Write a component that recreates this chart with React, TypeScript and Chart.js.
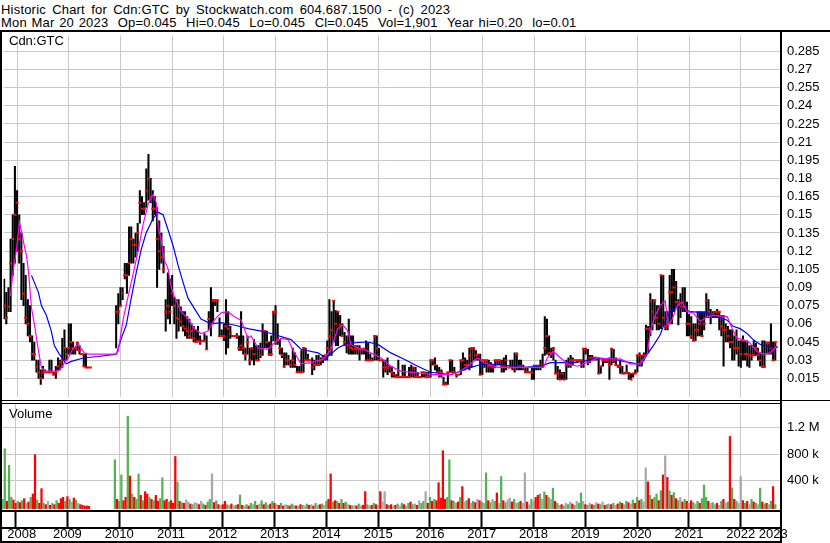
import React, { useEffect, useRef } from 'react';
import { Chart, registerables } from 'chart.js';

Chart.register(...registerables);

// ---------- DATA (bars are half-month periods; index 0 = early Apr 2008) ----------
const years = ['2008', '2009', '2010', '2011', '2012', '2013', '2014', '2015', '2016', '2017', '2018', '2019', '2020', '2021', '2022', '2023'];
const yearStart = [18, 42, 66, 90, 114, 138, 162, 186, 210, 234, 258, 282, 306, 330, 354];
const xMin = -0.3;
const xMax = 360.2;

const priceTicks = [0.015, 0.03, 0.045, 0.06, 0.075, 0.09, 0.105, 0.12, 0.135, 0.15, 0.165, 0.18, 0.195, 0.21, 0.225, 0.24, 0.255, 0.27, 0.285];
const priceTickLabels = ['0.015', '0.03', '0.045', '0.06', '0.075', '0.09', '0.105', '0.12', '0.135', '0.15', '0.165', '0.18', '0.195', '0.21', '0.225', '0.24', '0.255', '0.27', '0.285'];
const volTicks = [400, 800, 1200];
const volTickLabels = ['400 k', '800 k', '1.2 M'];

const N = null;
// prices in cents
const high = [
  9.7, 8.6, 9, 13, 15, 19, 17, 15, 13.5, 11, 10, 8, 7.5, 5, 4.5, 3, 3, 2.2,
  2.5, 2.2, 2, 3, 3, 2, 2.5, 3.2, 3, 4.8, 5.5, 4, 6, 6, 4.5, 4, 4.5, 4.2, 3.5, 3.5, 3.5, 2.4, 2.4, N,
  N, N, N, N, N, N, N, N, N, N, 7.5, 8.5, 9, 9, 11, 11, 14, 14, 13, 13.5, 14.3, 17, 16.5, 16,
  18.8, 20, 18, 17, 16.5, 15.6, 14.5, 13.5, 12.4, 8, 10.2, 9.7, 10, 8.2, 8, 8, 7.4, 7, 7, 6.6, 6.4, 6, 5.8, 5.5,
  5.8, 5, 4.6, 5.2, 5, 7, 9, 8, 8, 8, 6.5, 5.5, 6, 8, 7, 5.8, 5, 5, 5.2, 5, 7, 5, 4, 5,
  4, 4, 4.7, 4.2, 4.2, 4.4, 6, 5.4, 5.4, 4.5, 5, 7, 7.5, 6, 4.7, 4, 3.6, 3.6, 3.4, 3, 4, 3.6, 2.5, 2.5,
  3.8, 4, 4, 3.5, 3, 3.2, 3, 3.4, 3.4, 3.2, 3.4, 3.4, 4.6, 8, 7, 7.9, 7.1, 7, 6.7, 6, 5.3, 5, 6.4, 5,
  5, 4.2, 4.2, 4.2, 4, 4, 4.6, 4.4, 3.5, 3.2, 5, 5, 4, 3, 3, 3, 3.2, 2.5, 2.5, 2, 1.8, 3, 1.6, 2.6,
  2.6, 1.6, 2.4, 2.6, 2.4, 2.4, 2, 1.6, 2, 2, 2, 2, 3, 3, 3.2, 2.6, 2.4, 2.2, 1.6, 1.2, 2, 3, 3, 2.4,
  1.8, 1.8, 3, 3.6, 3.2, 3, 4, 4, 4, 3.8, 3.5, 3.5, 3, 3, 3, 3, 2.8, 2.6, 3, 3, 3, 3, 3.2, 3.4,
  2.4, 3, 3, 3.6, 3.6, 3, 3, 2.6, 2.4, 2.4, 2, 2.4, 2.6, 2.6, 2.6, 3, 3.5, 6.6, 6.4, 5, 4, 4, 3, 2.5,
  2.2, 2, 2, 3, 3.2, 3.4, 3.2, 3, 3, 3, 3, 4, 4, 3.9, 3.4, 3.4, 3.2, 3.2, 3.2, 2.5, 3, 3, 3, 3.2,
  4, 3.9, 3.2, 2.6, 3, 2.5, 2, 2.6, 2, 1.9, 1.9, 2.2, 3.4, 3.6, 3.4, 3.6, 5.9, 5.8, 8.5, 8, 8, 7.5, 7.5, 10,
  10, 7, 7, 10, 10.5, 10.5, 9.5, 8, 8.5, 9, 9, 7.8, 6.8, 6.6, 6, 6, 7, 7, 7, 7, 8.5, 8, 7.2, 7,
  7, 7.2, 7, 6.7, 6.7, 6, 5.8, 5.5, 5.5, 5, 5.5, 4.6, 4.6, 5, 4.6, 4.6, 4.2, 4.2, 4.6, 4.4, 4, 3.6, 4.6, 4.6,
  4.5, 4.5, 6, 4.5, 4.5,
];
const low = [
  6.4, 6, 7, 7, 10, 11, 12, 11, 8, 7.5, 6, 5, 4.5, 3, 3, 2, 1.5, 1,
  1.5, 2, 2, 2, 2, 1.8, 1.5, 2.2, 2.2, 2.4, 3, 3, 3.5, 3.5, 3.5, 3.5, 3.8, 3.5, 3.5, 2.5, 2.4, 2.4, 2.4, N,
  N, N, N, N, N, N, N, N, N, N, 4, 6, 7.5, 8, 9.7, 8.5, 10, 11, 11, 11.5, 12, 14.3, 15, 15,
  15.6, 16.2, 16, 14.5, 15, 9, 10.5, 11, 10.2, 5.4, 6.4, 6, 7.5, 6, 4.8, 5.4, 5.8, 5.4, 5, 4.8, 4.8, 4.8, 4.5, 4.5,
  4.5, 4.3, 4.6, 4.5, 3.9, 5.5, 5, 6, 7.5, 7, 5, 5, 4.6, 3.5, 4, 4.8, 5, 5, 4.8, 3.8, 3.8, 3.5, 3, 3.5,
  2.6, 3, 2.6, 3, 3, 3.2, 3.4, 4, 4, 3.4, 3.4, 4.6, 4.3, 4.3, 3.5, 3.2, 2.4, 2.6, 2.6, 2.4, 2.4, 2.4, 2, 2,
  2, 2, 3, 3, 3, 1.8, 2.2, 2.6, 2.6, 2.6, 2.8, 3, 3, 3.4, 3.4, 4.5, 4.2, 4.2, 5, 5, 4.2, 3.6, 3.5, 3.5,
  3.5, 3.5, 3.5, 3, 3.5, 3.5, 3, 3, 3, 3, 3, 3, 3, 3, 1.6, 2, 1.8, 2, 1.6, 1.6, 1.6, 1.6, 1.6, 1.6,
  1.6, 1.6, 1.6, 1.6, 1.6, 1.6, 1.6, 1.6, 1.6, 1.6, 1.6, 1.6, 1.6, 2.6, 2.2, 2, 1.6, 1.6, 1, 1, 1, 2, 2, 2,
  1.6, 1.8, 1.8, 2.2, 2.2, 2.4, 2.2, 2.4, 3, 3, 3, 1.8, 1.8, 2.4, 2, 2, 2, 2, 2.4, 2.6, 2.6, 2, 2, 2.2,
  2.4, 2.4, 2.2, 2, 2.2, 2.2, 2.2, 2.2, 2, 2, 2, 1.4, 1.4, 2.2, 2.2, 2.2, 2.4, 3.4, 3.5, 3.4, 3.2, 3, 1.9, 1.4,
  1.4, 1.4, 1.4, 1.4, 2.4, 2.4, 2.6, 3, 2.8, 3, 2.4, 2.4, 3.5, 2.6, 2.8, 3, 3, 3, 1.9, 1.9, 2.5, 2.8, 2.8, 1.4,
  2.6, 2.8, 2.6, 2.4, 1.9, 1.9, 1.9, 1.9, 1.4, 1.4, 1.6, 1.9, 2, 2.5, 2.5, 3, 3.4, 3.6, 5, 5.5, 6, 5.5, 5.5, 5.6,
  5.8, 5.5, 5.5, 6, 6, 7, 7.3, 5.9, 6.5, 7, 7, 5, 5, 4.8, 4.6, 4.6, 5, 5, 5, 5.5, 6.5, 6.5, 6, 6.5,
  6.5, 6.5, 5.5, 5, 2.5, 4.5, 4.5, 4, 3, 3, 3.5, 2.5, 2.4, 3, 3, 2.5, 2.4, 3, 3.4, 3.4, 3, 2.5, 2.4, 2.4,
  3.5, 3.5, 3.5, 3, 3,
];
const close = [
  7.5, 6.5, 7.4, 11, 13, 15, 16, 13, 12, 8.5, 6.5, 6, 5, 3.5, 3.5, 2.5, 2, 1.5,
  2, 2, 2, 2, 2, 1.8, 2, 2.5, 2.8, 3, 4, 3.5, 4, 4.5, 4, 4, 4.4, 3.8, 3.5, 2.5, 2.4, 2.4, 2.4, N,
  N, N, N, N, N, N, N, N, N, N, 7, 7, 7.5, 8.5, 10, 10, 11, 13, 12.5, 12.5, 13.5, 16, 15.5, 15.5,
  17, 18, 16.5, 15.5, 15.5, 13, 12, 11.5, 10.5, 7, 7.5, 7, 8.5, 7.5, 6.5, 6.4, 6.2, 5.8, 5.6, 5.4, 5, 5.4, 4.8, 4.5,
  4.6, 4.5, 4.6, 4.6, 3.9, 6.4, 6, 7.9, 7.9, 7.9, 5, 5, 5, 5.8, 5.6, 5.2, 5, 5, 5, 4, 4.2, 4, 3.5, 4.5,
  3, 4, 3.5, 3, 3, 3.4, 5.4, 5.4, 4.5, 3.5, 3.5, 7, 7, 4.7, 4, 3.4, 2.5, 3, 3, 2.6, 3, 2.6, 2, 2,
  2, 4, 3, 3, 3, 2.4, 2.6, 2.6, 2.6, 3, 3.2, 3.4, 4, 5, 5.5, 7.9, 6, 7, 5.9, 5, 4.5, 4.3, 4.2, 4,
  3.9, 3.9, 4, 3.9, 3.9, 3.9, 3, 3, 3, 3, 5, 4, 3, 3, 2.4, 2.4, 2.4, 2.5, 2, 1.8, 1.6, 1.6, 1.6, 1.6,
  1.6, 1.6, 1.6, 2, 2.4, 1.6, 1.6, 1.6, 2, 2, 1.6, 1.6, 3, 3, 2.6, 2, 2, 2, 1, 1, 2, 3, 2, 2,
  1.8, 1.8, 3, 3, 2.6, 2.6, 3.4, 4, 4, 3.4, 3.4, 1.8, 3, 3, 3, 2.5, 2.5, 2.4, 3, 3, 3, 2.5, 2.5, 3,
  2.4, 2.4, 2.4, 2.4, 3.5, 2.5, 2.5, 2.4, 2, 2, 2, 2, 2.5, 2.5, 2.5, 2.5, 2.6, 4, 5, 3.6, 3.6, 4, 1.9, 1.9,
  1.4, 1.9, 1.4, 2.6, 2.6, 3, 3, 3, 3, 3, 3, 3.9, 3.9, 3, 3.2, 3.2, 3.2, 3.2, 1.9, 2.5, 3, 3, 3, 2.6,
  3.9, 3, 2.6, 2.5, 2.5, 1.9, 1.9, 2, 1.9, 1.4, 1.9, 1.9, 3.4, 3.4, 3, 3.4, 5.6, 5.6, 7.9, 7, 7.9, 6.5, 6, 10,
  6.5, 5.8, 6, 8.6, 8.6, 9, 7.8, 7.8, 7.4, 7.4, 7.4, 6, 6, 5, 4.6, 5.5, 5.5, 6, 5, 6, 7.9, 7, 6.8, 6.8,
  7, 7, 7, 5.8, 5.5, 5.5, 5, 4.5, 4.5, 4, 4, 4, 3.5, 4.6, 3.5, 3.5, 3.4, 3.4, 3.4, 4, 3.4, 3, 2.5, 2.5,
  4.4, 4.4, 4, 3, 4.5,
];

// short moving average (magenta), positions in bar index, values in cents
const pinkX = [2.9, 4.3, 5.7, 7.1, 8.0, 9.4, 10.4, 11.3, 12.7, 14.1, 15.9, 17.3, 18.7, 25.2, 26.6, 29.8, 32.1, 34.5, 37.2, 39.1, 52.1, 53.0, 55.3, 57.6, 60.0, 62.3, 64.6, 66.9, 69.2, 70.6, 71.5, 72.9, 74.3, 76.2, 77.5, 78.9, 82.2, 85.4, 88.2, 91.4, 94.7, 97.5, 100.7, 104.0, 106.7, 110.0, 113.2, 114.6, 117.9, 122.5, 125.3, 128.5, 131.8, 134.5, 137.8, 142.4, 148.4, 151.7, 154.9, 157.3, 159.6, 161.0, 164.2, 167.0, 170.2, 174.9, 179.5, 184.1, 188.8, 199.4, 207.3, 211.9, 216.6, 219.8, 222.6, 229.1, 238.3, 250.4, 252.2, 255.0, 258.3, 261.5, 266.1, 272.2, 275.4, 280.0, 286.1, 290.7, 295.3, 298.6, 300.0, 302.3, 304.6, 306.9, 308.3, 310.2, 312.5, 314.8, 317.1, 319.9, 323.2, 326.4, 329.2, 335.7, 338.0, 340.3, 343.1, 346.3, 349.6, 352.3, 355.6, 358.8];
const pinkY = [8.3, 10.5, 12.1, 14.4, 13.7, 12.4, 11.6, 10.3, 7.3, 5.9, 3.8, 2.4, 2.1, 2.1, 2.4, 3.2, 4.0, 4.3, 3.6, 3.5, 3.5, 3.8, 6.4, 8.3, 10.2, 12.1, 14.3, 15.9, 16.7, 16.0, 14.0, 12.9, 11.3, 10.5, 9.1, 8.3, 7.0, 6.4, 5.6, 5.2, 5.4, 6.3, 6.9, 7.0, 6.6, 6.3, 4.8, 5.0, 4.0, 3.9, 4.4, 4.8, 4.7, 3.7, 2.7, 2.8, 3.1, 3.9, 5.6, 5.9, 5.4, 4.3, 4.0, 3.9, 3.6, 3.2, 2.5, 2.1, 2.0, 1.8, 1.8, 2.1, 2.7, 3.2, 2.8, 2.4, 2.4, 2.4, 3.2, 3.7, 3.2, 2.7, 2.5, 2.9, 3.2, 3.1, 3.1, 2.7, 2.7, 3.5, 5.4, 6.7, 7.5, 7.9, 5.9, 6.4, 7.5, 7.8, 7.0, 6.9, 6.2, 6.6, 6.7, 6.6, 5.6, 4.8, 4.7, 4.4, 3.7, 3.5, 3.6, 4.2];
// long moving average (blue)
const blueX = [12.7, 15.9, 17.3, 19.6, 21.9, 23.3, 25.6, 28.9, 31.2, 37.2, 43.7, 52.1, 54.4, 56.7, 59.0, 61.3, 63.6, 65.9, 69.2, 71.5, 73.8, 76.2, 78.5, 80.8, 83.1, 85.4, 88.2, 91.4, 96.1, 100.7, 106.7, 113.2, 119.3, 123.9, 133.2, 137.8, 145.7, 149.4, 151.7, 154.9, 159.6, 168.8, 173.5, 179.5, 185.5, 192.0, 198.0, 207.3, 210.5, 216.6, 222.6, 231.9, 241.1, 249.0, 253.6, 264.3, 268.9, 273.5, 282.8, 287.5, 293.9, 296.3, 298.6, 301.4, 304.6, 306.9, 309.3, 312.5, 315.3, 318.5, 326.4, 331.0, 335.7, 338.4, 341.7, 344.9, 347.7, 351.0, 357.0, 359.3];
const blueY = [10.0, 8.6, 7.5, 6.7, 5.4, 4.2, 3.5, 2.7, 2.9, 3.2, 3.3, 3.5, 4.8, 5.9, 8.1, 10.2, 12.1, 13.5, 14.7, 15.2, 15.0, 13.7, 12.4, 10.8, 9.4, 8.1, 7.3, 6.4, 6.0, 6.1, 5.9, 5.6, 5.4, 5.2, 4.7, 3.9, 3.6, 3.2, 3.5, 4.0, 4.4, 4.5, 4.3, 3.6, 3.1, 2.5, 2.0, 1.8, 2.0, 2.4, 2.7, 2.6, 2.4, 2.5, 2.8, 2.8, 2.9, 3.1, 3.1, 2.9, 2.7, 2.8, 3.5, 4.2, 5.1, 6.2, 7.0, 7.4, 7.3, 7.0, 6.9, 6.6, 6.3, 5.8, 5.6, 5.2, 4.7, 4.3, 4.0, 4.1];

// volume in thousands of shares
const volume = [
  120, 880, 90, 630, 150, 110, 60, 90, 70, 100, 130, 60, 80, 150, 200, 790, 110, 60,
  280, 60, 40, 90, 30, 60, 40, 100, 60, 130, 150, 90, 160, 120, 80, 140, 110, 60, 40, 30, 20, 20, 15, 0,
  0, 0, 0, 0, 0, 0, 0, 0, 0, 0, 714, 120, 90, 487, 100, 150, 1370, 470, 200, 150, 120, 500, 180, 100,
  235, 200, 150, 120, 100, 180, 90, 130, 443, 100, 120, 80, 100, 60, 764, 380, 90, 70, 60, 110, 80, 50, 40, 70,
  60, 40, 90, 50, 30, 80, 120, 503, 70, 100, 40, 30, 40, 90, 40, 30, 50, 20, 30, 40, 185, 30, 20, 40,
  20, 60, 40, 90, 30, 50, 100, 40, 70, 30, 50, 90, 60, 40, 30, 60, 20, 40, 30, 20, 50, 30, 20, 20,
  40, 30, 20, 50, 30, 40, 20, 60, 30, 40, 50, 30, 90, 120, 503, 80, 100, 90, 60, 120, 60, 80, 40, 30,
  20, 30, 20, 50, 20, 30, 235, 40, 20, 30, 60, 40, 30, 235, 80, 235, 40, 30, 40, 20, 30, 50, 20, 60,
  40, 20, 60, 80, 40, 50, 30, 100, 60, 90, 235, 60, 150, 90, 120, 100, 370, 140, 850, 120, 150, 714, 100, 90,
  60, 80, 150, 311, 80, 100, 130, 60, 90, 70, 120, 100, 80, 60, 518, 100, 70, 120, 90, 215, 60, 462, 100, 70,
  110, 140, 80, 120, 60, 70, 90, 60, 518, 80, 40, 120, 90, 150, 180, 200, 120, 230, 180, 150, 120, 287, 90, 60,
  30, 40, 20, 60, 40, 80, 50, 30, 90, 60, 215, 90, 40, 30, 60, 40, 30, 70, 50, 40, 80, 30, 40, 50,
  40, 60, 30, 50, 80, 60, 40, 90, 70, 50, 110, 60, 150, 100, 120, 80, 593, 382, 180, 120, 150, 200, 100, 250,
  487, 774, 450, 250, 180, 220, 130, 100, 150, 80, 120, 90, 60, 100, 70, 50, 90, 60, 130, 336, 150, 90, 60, 70,
  40, 60, 30, 90, 120, 60, 80, 1065, 290, 120, 90, 60, 462, 100, 60, 90, 40, 120, 80, 60, 40, 287, 80, 50,
  60, 40, 90, 311, 40,
];
// r = down, g = up, n = unchanged
const volumeDir = [
  'ggrggrrgrgrnrgrrgr',
  'rgrnrgrgrrrgrgnrgnrrrrrn',
  'nnnnnnnnnngrggrrgrgrggrg',
  'rrgrgrrggrrgrrrgrgrnnrgn',
  'nrngrggnrgrnrrgnrngrgrng',
  'rgngrngrgnrgrnrgrngrgnrn',
  'rgngrnrgnrgngrrgrgrgrgnr',
  'gnrgnrrgnrgrnrnnrgrnrgng',
  'rngrgnrnggnrgrgrrrrrggrg',
  'nrgrngrngrnrgngrgngrngrg',
  'nnrgngrnnrngnrrgngrgngrg',
  'nrgngnrgnggnrgnrgnrgnrgn',
  'rgnrgrngrngrgrgnnrgrggrg',
  'rnrgrgrgnrgrnrgngrgggrng',
  'nrngrngrgrgnnrgrngrgngrg',
  'rngrg',
].join('');

// ---------- STYLE ----------
const FONT = "'Liberation Sans', Arial, sans-serif";
const GRID = '#c8c8c8';
const DIR_COLORS: Record<string, string> = { r: 'rgb(255,0,0)', g: 'rgb(84,178,84)', n: 'rgb(168,168,168)' };

const yearLabelPos = (() => {
  const b = [xMin, ...yearStart, xMax];
  const out: number[] = [];
  for (let k = 0; k < b.length - 1; k++) out.push((b[k] + b[k + 1]) / 2);
  return out;
})();

function zeroPad(s: any) {
  s.paddingLeft = 0;
  s.paddingRight = 0;
  s.paddingTop = 0;
  s.paddingBottom = 0;
}

function priceConfig(): any {
  const bars: any[] = [];
  const closes: any[] = [];
  high.forEach((h, i) => {
    if (h == null) return;
    bars.push({ x: i, y: [(low[i] as number) / 100, h / 100] });
    closes.push({ x: i, y: (close[i] as number) / 100 });
  });
  const pink = pinkX.map((x, k) => ({ x, y: pinkY[k] / 100 }));
  const blue = blueX.map((x, k) => ({ x, y: blueY[k] / 100 }));
  return {
    type: 'bar',
    data: {
      datasets: [
        { type: 'line', data: pink, borderColor: '#ff00ff', borderWidth: 1.2, pointRadius: 0, tension: 0, order: 0 },
        { type: 'line', data: blue, borderColor: '#0000ff', borderWidth: 1.2, pointRadius: 0, tension: 0, order: 1 },
        {
          type: 'line', data: closes, showLine: false, pointStyle: 'line', pointRadius: 1.5, pointHoverRadius: 1.5,
          pointBorderWidth: 2, pointBorderColor: '#ff0000', pointBackgroundColor: '#ff0000', order: 2,
        },
        { type: 'bar', data: bars, backgroundColor: '#000000', borderWidth: 0, barThickness: 1.4, order: 3 },
      ],
    },
    options: {
      animation: false,
      responsive: false,
      events: [],
      layout: { padding: { left: 2, right: 0, top: 0, bottom: 0 } },
      plugins: { legend: { display: false }, tooltip: { enabled: false } },
      scales: {
        x: {
          type: 'linear', min: xMin, max: xMax, offset: false,
          grid: { color: GRID, lineWidth: 1, drawTicks: false },
          border: { display: false },
          ticks: { display: false },
          afterBuildTicks: (s: any) => { s.ticks = yearStart.map((v) => ({ value: v })); },
          afterFit: (s: any) => { s.height = 0; zeroPad(s); },
        },
        y: {
          type: 'linear', position: 'right', min: 0, max: 0.298,
          grid: { color: GRID, lineWidth: 1, drawTicks: false },
          border: { display: false },
          ticks: {
            padding: 7, color: '#000', autoSkip: false, font: { family: FONT, size: 13 },
            callback: (_v: any, i: number) => priceTickLabels[i],
          },
          afterBuildTicks: (s: any) => { s.ticks = priceTicks.map((v) => ({ value: v })); },
          afterFit: (s: any) => { s.width = 50; zeroPad(s); },
        },
      },
    },
  };
}

function volumeConfig(): any {
  const data: any[] = [];
  const colors: string[] = [];
  volume.forEach((v, i) => {
    if (!v) return;
    data.push({ x: i, y: v });
    colors.push(DIR_COLORS[volumeDir[i]] || DIR_COLORS.n);
  });
  return {
    type: 'bar',
    data: {
      datasets: [{ data, backgroundColor: colors, borderWidth: 0, barThickness: 1.6, base: -20 }],
    },
    options: {
      animation: false,
      responsive: false,
      events: [],
      layout: { padding: { left: 2, right: 0, top: 3, bottom: 0 } },
      plugins: { legend: { display: false }, tooltip: { enabled: false } },
      scales: {
        x: {
          type: 'linear', position: 'bottom', weight: 0, min: xMin, max: xMax, offset: false,
          grid: { color: GRID, lineWidth: 1, drawTicks: true, tickLength: 17, tickColor: '#000', tickWidth: 2 },
          border: { display: false },
          ticks: { display: false },
          afterBuildTicks: (s: any) => { s.ticks = yearStart.map((v) => ({ value: v })); },
          afterFit: (s: any) => { s.height = 17; zeroPad(s); },
        },
        x2: {
          type: 'linear', position: 'bottom', weight: 1, min: xMin, max: xMax, offset: false,
          grid: { display: false, drawTicks: false },
          border: { display: false },
          ticks: {
            autoSkip: false, maxRotation: 0, minRotation: 0, padding: 0, color: '#000',
            font: { family: FONT, size: 13 },
            callback: (_v: any, i: number) => years[i],
          },
          afterBuildTicks: (s: any) => { s.ticks = yearLabelPos.map((v) => ({ value: v })); },
          afterFit: (s: any) => { s.height = 16; zeroPad(s); },
        },
        y: {
          type: 'linear', position: 'right', min: -41, max: 1553,
          grid: { color: GRID, lineWidth: 1, drawTicks: false },
          border: { display: false },
          ticks: {
            padding: 7, color: '#000', autoSkip: false, font: { family: FONT, size: 13 },
            callback: (_v: any, i: number) => volTickLabels[i],
          },
          afterBuildTicks: (s: any) => { s.ticks = volTicks.map((v) => ({ value: v })); },
          afterFit: (s: any) => { s.width = 50; zeroPad(s); },
        },
      },
    },
  };
}

const line = (left: number, top: number, width: number, height: number) => (
  <div style={{ position: 'absolute', left, top, width, height, background: '#000' }} />
);

export default function App() {
  const priceRef = useRef<HTMLCanvasElement>(null);
  const volRef = useRef<HTMLCanvasElement>(null);

  useEffect(() => {
    const c1 = new Chart(priceRef.current as HTMLCanvasElement, priceConfig());
    const c2 = new Chart(volRef.current as HTMLCanvasElement, volumeConfig());
    return () => {
      c1.destroy();
      c2.destroy();
    };
  }, []);

  const txt: React.CSSProperties = {
    position: 'absolute', fontFamily: FONT, fontSize: 13, lineHeight: '13px', color: '#000', whiteSpace: 'pre',
  };

  return (
    <div style={{ position: 'absolute', left: 0, top: 0, width: 830, height: 543, background: '#fff', overflow: 'hidden' }}>
      <div style={{ ...txt, left: 1, top: 3, wordSpacing: 2.4, letterSpacing: 0.2 }}>
        Historic Chart for Cdn:GTC by Stockwatch.com 604.687.1500 - (c) 2023
      </div>
      <div style={{ ...txt, left: 1, top: 16.3, wordSpacing: 1, letterSpacing: 0.16 }}>
        {'Mon Mar 20 2023  Op=0.045  Hi=0.045  Lo=0.045  Cl=0.045  Vol=1,901  Year hi=0.20  lo=0.01'}
      </div>
      <canvas ref={priceRef} width={830} height={368} style={{ position: 'absolute', left: 0, top: 32, width: 830, height: 368 }} />
      <canvas ref={volRef} width={830} height={142} style={{ position: 'absolute', left: 0, top: 401, width: 830, height: 142 }} />
      <div style={{ ...txt, left: 9, top: 34 }}>Cdn:GTC</div>
      <div style={{ ...txt, left: 9, top: 407.3 }}>Volume</div>
      {line(0, 30, 830, 2)}
      {line(0, 30, 2, 513)}
      {line(780, 30, 2, 513)}
      {line(0, 400, 830, 1)}
      {line(0, 403, 782, 1)}
      {line(0, 510, 782, 2)}
      {line(0, 527, 782, 2)}
      {line(0, 541, 782, 2)}
    </div>
  );
}
